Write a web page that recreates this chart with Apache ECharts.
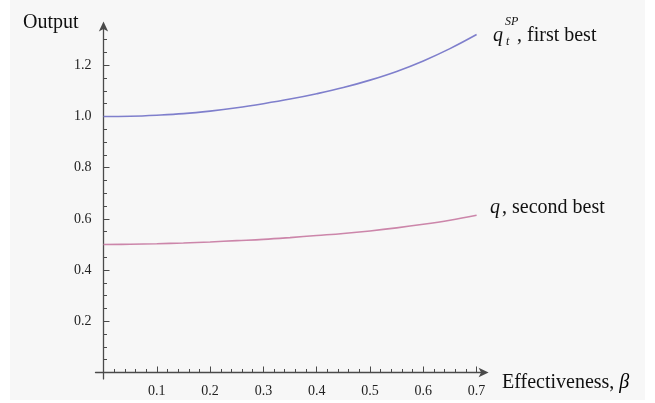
<!DOCTYPE html>
<html>
<head>
<meta charset="utf-8">
<script src="https://cdn.jsdelivr.net/npm/echarts@6/dist/echarts.min.js"></script>
<style>
html,body{margin:0;padding:0;background:#fff;}
#c{width:655px;height:403px;}
</style>
</head>
<body>
<div id="c"></div>
<script>
// ---- data ----
const beta = [0, 0.05, 0.1, 0.15, 0.2, 0.25, 0.3, 0.35, 0.4, 0.45, 0.5, 0.55, 0.6, 0.65, 0.7];
const firstBest = [1.000, 1.001, 1.005, 1.011, 1.021, 1.034, 1.050, 1.068, 1.089, 1.113, 1.142, 1.176, 1.217, 1.265, 1.320];
const secondBest = [0.500, 0.501, 0.503, 0.506, 0.510, 0.515, 0.520, 0.527, 0.535, 0.543, 0.553, 0.565, 0.579, 0.595, 0.614];
const xMajorTicks = [0.1, 0.2, 0.3, 0.4, 0.5, 0.6, 0.7];
const xMinorTicks = [0.02, 0.04, 0.06, 0.08, 0.12, 0.14, 0.16, 0.18, 0.22, 0.24, 0.26, 0.28, 0.32, 0.34, 0.36, 0.38, 0.42, 0.44, 0.46, 0.48, 0.52, 0.54, 0.56, 0.58, 0.62, 0.64, 0.66, 0.68];
const yMajorTicks = [0.2, 0.4, 0.6, 0.8, 1.0, 1.2];
const yMinorTicks = [0.05, 0.1, 0.15, 0.25, 0.3, 0.35, 0.45, 0.5, 0.55, 0.65, 0.7, 0.75, 0.85, 0.9, 0.95, 1.05, 1.1, 1.15, 1.25, 1.3];

const serif = '"Liberation Serif", "DejaVu Serif", serif';
const axisColor = '#4a4a4a';

const chart = echarts.init(document.getElementById('c'), null, {renderer: 'canvas'});

const xRange = {min: -0.015, max: 0.715};
const yRange = {min: -0.025, max: 1.355};

chart.setOption({
  backgroundColor: '#ffffff',
  animation: false,
  grid: {left: 95.5, top: 25.6, width: 389.1, height: 353.3, containLabel: false},
  xAxis: [
    {
      type: 'value', position: 'bottom', min: xRange.min, max: xRange.max,
      axisLine: {show: true, onZero: true, symbol: ['none', 'arrow'], symbolSize: [7, 10], symbolOffset: [0, 4],
        lineStyle: {color: axisColor, width: 1.3}},
      axisTick: {show: true, inside: true, length: 6, customValues: xMajorTicks, lineStyle: {color: axisColor, width: 1}},
      axisLabel: {show: true, customValues: xMajorTicks, margin: 5, color: '#222', fontFamily: serif, fontSize: 14,
        formatter: v => v.toFixed(1)},
      splitLine: {show: false}
    },
    {
      type: 'value', position: 'bottom', min: xRange.min, max: xRange.max,
      axisLine: {show: false, onZero: true},
      axisTick: {show: true, inside: true, length: 3.5, customValues: xMinorTicks, lineStyle: {color: axisColor, width: 1}},
      axisLabel: {show: false},
      splitLine: {show: false}
    }
  ],
  yAxis: [
    {
      type: 'value', position: 'left', min: yRange.min, max: yRange.max,
      axisLine: {show: true, onZero: true, symbol: ['none', 'arrow'], symbolSize: [7, 10], symbolOffset: [0, 4],
        lineStyle: {color: axisColor, width: 1.3}},
      axisTick: {show: true, inside: true, length: 6, customValues: yMajorTicks, lineStyle: {color: axisColor, width: 1}},
      axisLabel: {show: true, customValues: yMajorTicks, margin: 4, color: '#222', fontFamily: serif, fontSize: 14,
        formatter: v => v.toFixed(1)},
      splitLine: {show: false}
    },
    {
      type: 'value', position: 'left', min: yRange.min, max: yRange.max,
      axisLine: {show: false, onZero: true},
      axisTick: {show: true, inside: true, length: 3.5, customValues: yMinorTicks, lineStyle: {color: axisColor, width: 1}},
      axisLabel: {show: false},
      splitLine: {show: false}
    }
  ],
  series: [
    {
      name: 'first best', type: 'line', xAxisIndex: 0, yAxisIndex: 0,
      data: beta.map((b, i) => [b, firstBest[i]]),
      smooth: 0.4, showSymbol: false,
      lineStyle: {color: '#7f7fcc', width: 1.6}
    },
    {
      name: 'second best', type: 'line', xAxisIndex: 0, yAxisIndex: 0,
      data: beta.map((b, i) => [b, secondBest[i]]),
      smooth: 0.4, showSymbol: false,
      lineStyle: {color: '#cc86aa', width: 1.6}
    }
  ],
  graphic: [
    {type: 'rect', z: -10, silent: true, shape: {x: 10, y: 0, width: 635, height: 400}, style: {fill: '#f7f7f7'}},
    {type: 'text', style: {text: 'Output', x: 23, y: 23, font: '20px ' + serif, fill: '#111', verticalAlign: 'middle'}},
    {type: 'text', style: {
      text: '{a|Effectiveness, }{b|β}', x: 502, y: 383, verticalAlign: 'middle',
      rich: {a: {fontFamily: serif, fontSize: 20, fill: '#111', color: '#111'},
             b: {fontFamily: serif, fontSize: 20, fontStyle: 'italic', color: '#111'}}}},
    {type: 'text', style: {text: 'q', x: 493, y: 36, font: 'italic 20px ' + serif, fill: '#111', verticalAlign: 'middle'}},
    {type: 'text', style: {text: 'SP', x: 505, y: 22, font: 'italic 12px ' + serif, fill: '#111', verticalAlign: 'middle'}},
    {type: 'text', style: {text: 't', x: 506, y: 42, font: 'italic 12px ' + serif, fill: '#111', verticalAlign: 'middle'}},
    {type: 'text', style: {text: ', first best', x: 517, y: 36, font: '20px ' + serif, fill: '#111', verticalAlign: 'middle'}},
    {type: 'text', style: {text: 'q', x: 490, y: 208, font: 'italic 20px ' + serif, fill: '#111', verticalAlign: 'middle'}},
    {type: 'text', style: {text: ', second best', x: 502, y: 208, font: '20px ' + serif, fill: '#111', verticalAlign: 'middle'}}
  ]
});
</script>
</body>
</html>
